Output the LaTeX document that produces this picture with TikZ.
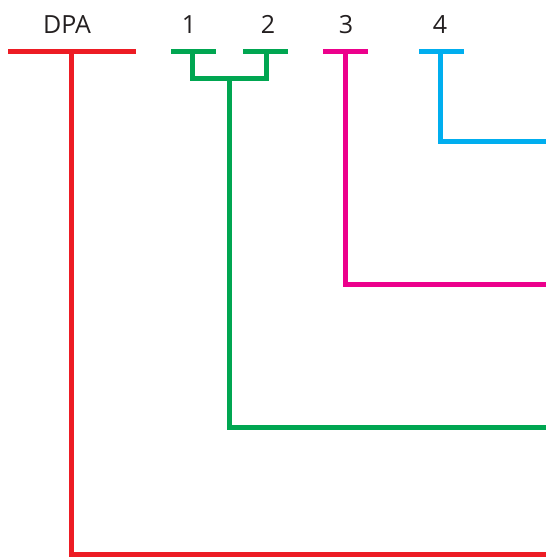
\documentclass[tikz,border=0pt]{standalone}
\usepackage{fontspec}
\setmainfont{Open Sans}
\definecolor{cred}{HTML}{ED1C24}
\definecolor{cgreen}{HTML}{00A651}
\definecolor{cmag}{HTML}{EC008C}
\definecolor{ccyan}{HTML}{00AEEF}
\definecolor{ctext}{HTML}{231F20}
\tikzset{
  lbl/.style={font=\fontsize{25}{30}\selectfont, text=ctext, anchor=base, inner sep=0pt},
  wire/.style={line width=5pt, line join=miter, line cap=butt}
}
\begin{document}
\begin{tikzpicture}[x=1pt,y=-1pt]
\useasboundingbox (0,0) rectangle (546,557);
% labels
\node[lbl] (tDPA) at (67,33) {DPA};
\node[lbl] (t1) at (189,33) {1};
\node[lbl] (t2) at (268,33) {2};
\node[lbl] (t3) at (346,33) {3};
\node[lbl] (t4) at (440,33) {4};
% coordinates
\coordinate (rL) at (8,51.5);
\coordinate (rR) at (136,51.5);
\coordinate (rT) at (71.5,51.5);
\coordinate (rB) at (71.5,554);
\coordinate (rE) at (546,554);
\coordinate (g1L) at (171,51.5);
\coordinate (g1R) at (216,51.5);
\coordinate (g2L) at (243,51.5);
\coordinate (g2R) at (288,51.5);
\coordinate (g1T) at (192.5,51.5);
\coordinate (g2T) at (266.5,51.5);
\coordinate (g1J) at (192.5,78.5);
\coordinate (g2J) at (266.5,78.5);
\coordinate (gM) at (229.5,78.5);
\coordinate (gB) at (229.5,427.5);
\coordinate (gE) at (546,427.5);
\coordinate (mL) at (323,51.5);
\coordinate (mR) at (368,51.5);
\coordinate (mT) at (345.5,51.5);
\coordinate (mB) at (345.5,284);
\coordinate (mE) at (546,284);
\coordinate (cL) at (419,51.5);
\coordinate (cR) at (464,51.5);
\coordinate (cT) at (440.5,51.5);
\coordinate (cB) at (440.5,141);
\coordinate (cE) at (546,141);
% red
\draw[wire, cred] (rL) -- (rR);
\draw[wire, cred] (rT) -- (rB) -- (rE);
% green
\draw[wire, cgreen] (g1L) -- (g1R);
\draw[wire, cgreen] (g2L) -- (g2R);
\draw[wire, cgreen] (g1T) -- (g1J) -- (g2J) -- (g2T);
\draw[wire, cgreen] (gM) -- (gB) -- (gE);
% magenta
\draw[wire, cmag] (mL) -- (mR);
\draw[wire, cmag] (mT) -- (mB) -- (mE);
% cyan
\draw[wire, ccyan] (cL) -- (cR);
\draw[wire, ccyan] (cT) -- (cB) -- (cE);
\end{tikzpicture}
\end{document}
